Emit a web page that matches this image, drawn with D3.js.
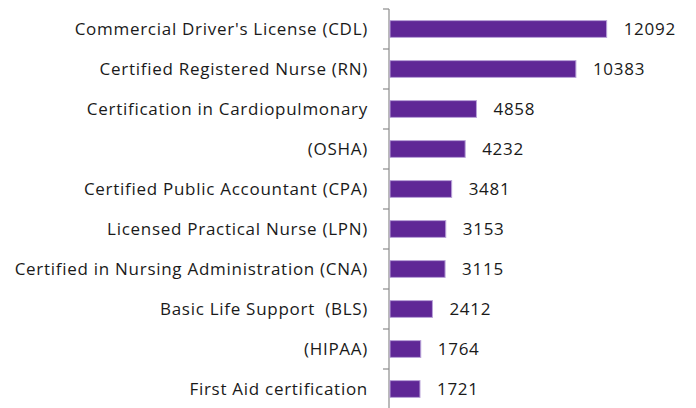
<!DOCTYPE html>
<html>
<head>
<meta charset="utf-8">
<script src="https://cdn.jsdelivr.net/npm/d3@7"></script>
<style>
  html, body { margin: 0; padding: 0; background: #fff; }
  #chart { width: 696px; height: 408px; }
  text { font-family: "Open Sans", "Noto Sans", sans-serif; fill: #1a1a1a; letter-spacing: 0.72px; }
</style>
</head>
<body>
<div id="chart"></div>
<script>
// certifications, top to bottom
const categories = [
  "Commercial Driver's License (CDL)",
  "Certified Registered Nurse (RN)",
  "Certification in Cardiopulmonary",
  "(OSHA)",
  "Certified Public Accountant (CPA)",
  "Licensed Practical Nurse (LPN)",
  "Certified in Nursing Administration (CNA)",
  "Basic Life Support  (BLS)",
  "(HIPAA)",
  "First Aid certification"
];
const counts = [12092, 10383, 4858, 4232, 3481, 3153, 3115, 2412, 1764, 1721];
const xDomain = [0, 14000];

const cw = 696, ch = 408;
const margin = { top: 9, left: 389 };
const h = 400;
const w = 252;

const svg = d3.select('#chart').append('svg')
  .attr('width', cw).attr('height', ch)
  .append('g')
  .attr('transform', `translate(${margin.left},${margin.top})`);

const yScale = d3.scaleBand()
  .domain(categories)
  .range([0, h])
  .paddingInner(0.58)
  .paddingOuter(0.29);

const xScale = d3.scaleLinear().domain(xDomain).range([0, w]);

// axis line + ticks at band boundaries
const axis = svg.append('g');
axis.append('line')
  .attr('x1', 0).attr('x2', 0)
  .attr('y1', 0).attr('y2', h)
  .attr('stroke', '#8c8c8c').attr('stroke-width', 1.2);
const step = yScale.step();
d3.range(categories.length + 1).forEach(i => {
  axis.append('line')
    .attr('x1', -6).attr('x2', 0)
    .attr('y1', i * step).attr('y2', i * step)
    .attr('stroke', '#8c8c8c').attr('stroke-width', 1.2);
});

// category labels
svg.selectAll('.cat')
  .data(categories)
  .enter().append('text')
  .attr('class', 'cat')
  .attr('x', -21)
  .attr('y', d => yScale(d) + yScale.bandwidth() / 2)
  .attr('dy', '0.36em')
  .attr('text-anchor', 'end')
  .attr('font-size', '17px')
  .style('white-space', 'pre')
  .text(d => d);

// bars
svg.selectAll('.bar')
  .data(categories)
  .enter().append('rect')
  .attr('class', 'bar')
  .attr('x', 1)
  .attr('y', d => yScale(d))
  .attr('width', (d, i) => xScale(counts[i]) - 1)
  .attr('height', yScale.bandwidth())
  .attr('fill', '#5f2796')
  .attr('stroke', '#b9a2d8')
  .attr('stroke-width', 1);

// value labels
svg.selectAll('.val')
  .data(categories)
  .enter().append('text')
  .attr('class', 'val')
  .attr('x', (d, i) => xScale(counts[i]) + 17)
  .attr('y', d => yScale(d) + yScale.bandwidth() / 2)
  .attr('dy', '0.38em')
  .attr('font-size', '17px')
  .text((d, i) => counts[i]);
</script>
</body>
</html>
